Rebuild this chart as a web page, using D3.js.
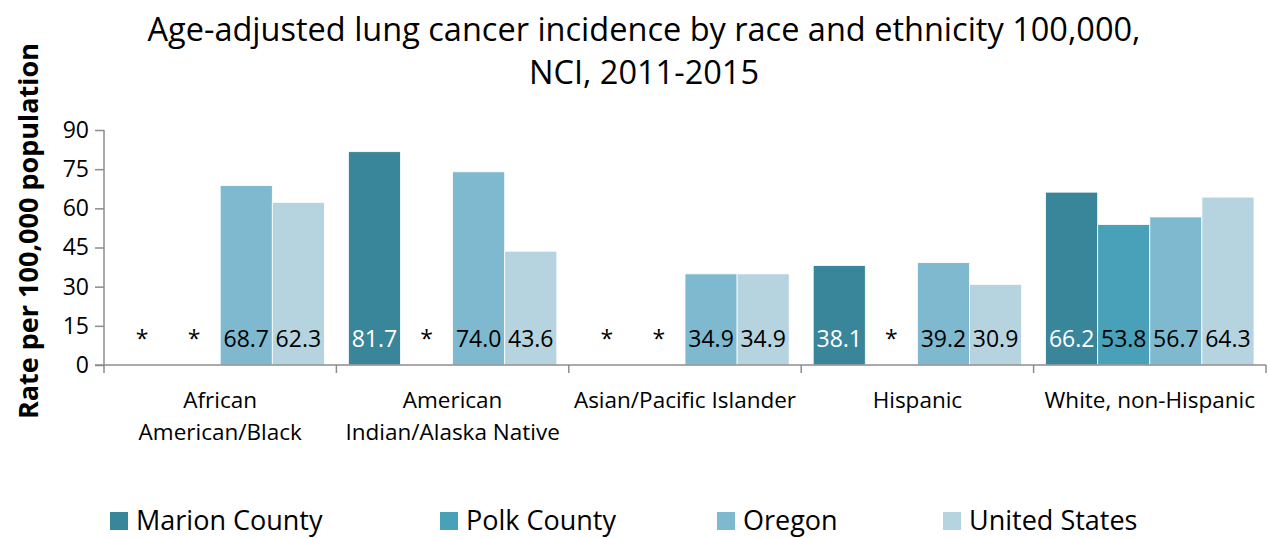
<!DOCTYPE html>
<html><head><meta charset="utf-8">
<script src="https://cdn.jsdelivr.net/npm/d3@7"></script>
<style>body{margin:0;background:#fff;} text{font-family:"Open Sans",sans-serif;}</style>
</head><body><svg id="c" width="1269" height="538"></svg>
<script>
const categories = ["African American/Black", "American Indian/Alaska Native", "Asian/Pacific Islander", "Hispanic", "White, non-Hispanic"];
const categoryLines = [["African","American/Black"],["American","Indian/Alaska Native"],["Asian/Pacific Islander"],["Hispanic"],["White, non-Hispanic"]];
const seriesNames = ["Marion County", "Polk County", "Oregon", "United States"];
const marion = [null, 81.7, null, 38.1, 66.2];
const polk = [null, null, null, null, 53.8];
const oregon = [68.7, 74.0, 34.9, 39.2, 56.7];
const unitedStates = [62.3, 43.6, 34.9, 30.9, 64.3];
const yTicks = [0, 15, 30, 45, 60, 75, 90];
const colors = ["#39859A", "#49A1B9", "#7EB9CF", "#B6D4DF"];
const labelColors = ["#fff", "#000", "#000", "#000"];
const seriesValues = [marion, polk, oregon, unitedStates];

const svg = d3.select("#c");
const pLeft = 104, pRight = 1266, pTop = 130, pBottom = 365;
const x0 = d3.scaleBand().domain(categories).range([pLeft, pRight]).padding(0);
const x1 = d3.scaleBand().domain(seriesNames).range([12, x0.bandwidth() - 12]).padding(0);
const y = d3.scaleLinear().domain([0, 90]).range([pBottom, pTop]);

// title
svg.append("text").attr("x", 644).attr("y", 41).attr("text-anchor", "middle").attr("font-size", 32.5).attr("fill", "#000")
  .text("Age-adjusted lung cancer incidence by race and ethnicity 100,000,");
svg.append("text").attr("x", 644).attr("y", 84).attr("text-anchor", "middle").attr("font-size", 32.5).attr("fill", "#000")
  .text("NCI, 2011-2015");

// y axis label
svg.append("text").attr("transform", "translate(38,231) rotate(-90)").attr("text-anchor", "middle")
  .attr("font-size", 27).attr("font-weight", "bold").text("Rate per 100,000 population");

// bars
categories.forEach((cat, ci) => {
  const g = svg.append("g").attr("transform", `translate(${x0(cat)},0)`);
  seriesNames.forEach((s, si) => {
    const v = seriesValues[si][ci];
    const bx = x1(s), bw = x1.bandwidth();
    if (v != null) {
      g.append("rect").attr("x", bx).attr("y", y(v)).attr("width", bw).attr("height", y(0) - y(v))
        .attr("fill", colors[si]).attr("stroke", "#fff").attr("stroke-width", 0.8);
      g.append("text").attr("x", bx + bw / 2).attr("y", 347).attr("text-anchor", "middle")
        .attr("font-size", 23).attr("fill", labelColors[si]).text(v.toFixed(1));
    } else {
      g.append("text").attr("x", bx + bw / 2).attr("y", 347).attr("text-anchor", "middle")
        .attr("font-size", 23).attr("fill", "#000").text("*");
    }
  });
});

// y axis
const yAxis = d3.axisLeft(y).tickValues(yTicks).tickSize(9).tickPadding(6);
const ya = svg.append("g").attr("transform", `translate(${pLeft},0)`).call(yAxis);
ya.select(".domain").remove();
ya.append("line").attr("x1", 0).attr("x2", 0).attr("y1", pTop).attr("y2", pBottom + 8).attr("stroke", "#8c8c8c").attr("stroke-width", 1.5);
ya.selectAll(".tick line").attr("stroke", "#8c8c8c").attr("stroke-width", 1.5);
ya.selectAll(".tick text").attr("font-size", 23).attr("fill", "#000").attr("font-family", "Open Sans");

// x axis
svg.append("line").attr("x1", pLeft - 9).attr("x2", pRight).attr("y1", pBottom).attr("y2", pBottom).attr("stroke", "#8c8c8c").attr("stroke-width", 1.5);
categories.forEach((cat) => {
  const xe = x0(cat) + x0.bandwidth();
  svg.append("line").attr("x1", xe).attr("x2", xe).attr("y1", pBottom).attr("y2", pBottom + 8).attr("stroke", "#8c8c8c").attr("stroke-width", 1.5);
});
categories.forEach((cat, ci) => {
  const t = svg.append("text").attr("text-anchor", "middle").attr("font-size", 22.5).attr("fill", "#000");
  categoryLines[ci].forEach((ln, li) => {
    t.append("tspan").attr("x", x0(cat) + x0.bandwidth() / 2).attr("y", 408 + li * 32).text(ln);
  });
});

// legend
const legendX = [110, 440, 717, 943];
seriesNames.forEach((s, si) => {
  svg.append("rect").attr("x", legendX[si]).attr("y", 512).attr("width", 18).attr("height", 18).attr("fill", colors[si]);
  svg.append("text").attr("x", legendX[si] + 26).attr("y", 530).attr("font-size", 27).attr("fill", "#000").text(s);
});
</script></body></html>
